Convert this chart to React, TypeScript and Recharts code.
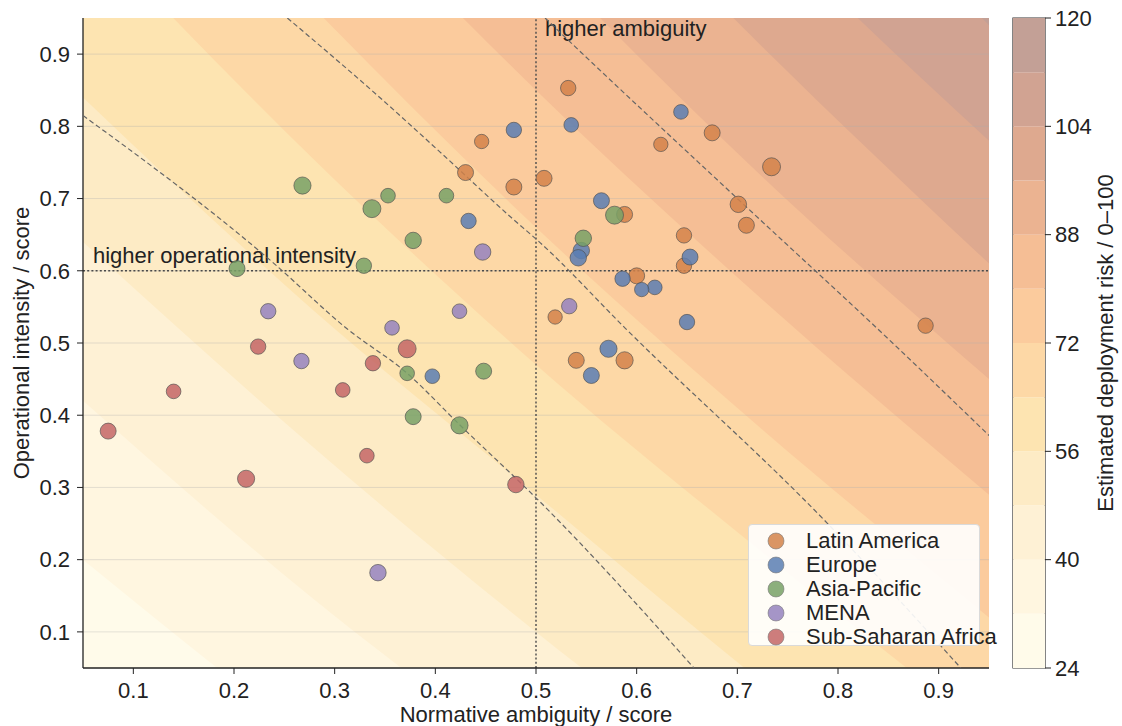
import React from 'react';
import {
  ComposedChart, BarChart, Bar, Area, Scatter, XAxis, YAxis, ZAxis,
  ReferenceLine, ReferenceArea, Legend,
} from 'recharts';

const FONT = '"Liberation Sans", Arial, Helvetica, sans-serif';

// [normative ambiguity, operational intensity, weight]
const latinAmerica = [
  [0.446, 0.779, 32], [0.430, 0.736, 53], [0.478, 0.716, 53], [0.532, 0.853, 45],
  [0.675, 0.791, 53], [0.624, 0.775, 32], [0.734, 0.744, 81], [0.508, 0.728, 53],
  [0.701, 0.692, 59], [0.588, 0.678, 53], [0.709, 0.663, 53], [0.647, 0.649, 45],
  [0.647, 0.607, 45], [0.600, 0.593, 53], [0.519, 0.536, 32], [0.887, 0.524, 45],
  [0.540, 0.476, 53], [0.588, 0.476, 69],
];
const europe = [
  [0.478, 0.795, 45], [0.433, 0.669, 45], [0.397, 0.454, 36], [0.644, 0.820, 36],
  [0.535, 0.802, 36], [0.565, 0.697, 53], [0.545, 0.628, 59], [0.542, 0.618, 59],
  [0.653, 0.619, 53], [0.586, 0.589, 45], [0.618, 0.577, 36], [0.605, 0.574, 32],
  [0.650, 0.529, 45], [0.572, 0.492, 69], [0.555, 0.455, 53],
];
const asiaPacific = [
  [0.268, 0.718, 69], [0.353, 0.704, 36], [0.411, 0.704, 36], [0.337, 0.686, 81],
  [0.378, 0.642, 59], [0.203, 0.603, 53], [0.329, 0.607, 45], [0.372, 0.458, 36],
  [0.448, 0.461, 53], [0.378, 0.398, 53], [0.424, 0.386, 69], [0.578, 0.677, 81],
  [0.547, 0.645, 59],
];
const mena = [
  [0.447, 0.626, 59], [0.234, 0.544, 45], [0.424, 0.544, 36], [0.357, 0.521, 36],
  [0.267, 0.475, 45], [0.343, 0.182, 59], [0.533, 0.551, 45],
];
const subSaharanAfrica = [
  [0.224, 0.495, 45], [0.372, 0.492, 81], [0.338, 0.472, 45], [0.140, 0.433, 36],
  [0.308, 0.435, 36], [0.075, 0.378, 53], [0.332, 0.344, 36], [0.212, 0.312, 69],
  [0.480, 0.304, 59],
];

const regionNames = ['Latin America', 'Europe', 'Asia-Pacific', 'MENA', 'Sub-Saharan Africa'];
const regionPoints = [latinAmerica, europe, asiaPacific, mena, subSaharanAfrica];
const regionColors = ['#d3834a', '#5a7eb3', '#78a166', '#9583be', '#c46666'];

// dashed iso-risk lines
const riskContourLow = [
  [0.05, 0.815], [0.239, 0.611], [0.312, 0.52], [0.372, 0.458], [0.424, 0.387],
  [0.504, 0.28], [0.657, 0.05],
];
const riskContourMid = [
  [0.253, 0.95], [0.348, 0.836], [0.405, 0.764], [0.476, 0.673], [0.504, 0.639],
  [0.589, 0.52], [0.789, 0.251], [0.922, 0.05],
];
const riskContourHigh = [
  [0.509, 0.95], [0.527, 0.926], [0.7, 0.7], [0.855, 0.499], [0.95, 0.372],
];

// filled risk bands: lower edge of each band (operational intensity) at these ambiguity values
const riskLevels = [24, 32, 40, 48, 56, 64, 72, 80, 88, 96, 104, 112, 120];
const bandEdgeX = [0.05, 0.275, 0.5, 0.725, 0.95];
const bandEdgeY = [
  [-0.03, -0.25, -0.47, -0.67, -0.86],
  [0.20, -0.05, -0.28, -0.49, -0.70],
  [0.42, 0.15, -0.09, -0.32, -0.53],
  [0.64, 0.36, 0.10, -0.14, -0.37],
  [0.84, 0.55, 0.29, 0.03, -0.21],
  [1.08, 0.76, 0.47, 0.21, -0.04],
  [1.30, 0.97, 0.66, 0.38, 0.12],
  [1.52, 1.17, 0.85, 0.56, 0.29],
  [1.74, 1.37, 1.04, 0.73, 0.45],
  [1.96, 1.58, 1.23, 0.91, 0.61],
  [2.19, 1.78, 1.42, 1.08, 0.78],
  [2.41, 1.98, 1.60, 1.26, 0.94],
];
const bandColors = [
  '#fffbea', '#fff6e0', '#fef1d5', '#fdebc5', '#fde4b1', '#fdd8a6',
  '#fbcb9d', '#f5be95', '#ebb391', '#dea98f', '#d1a392', '#c3a096',
];

const axisTicks = [0.1, 0.2, 0.3, 0.4, 0.5, 0.6, 0.7, 0.8, 0.9];
const riskTicks = [24, 40, 56, 72, 88, 104, 120];

const TEXT = '#222';
const FS = 22;

function AxisTitle(props: any) {
  const { viewBox, value, kind } = props;
  const { x, y, width, height } = viewBox;
  if (kind === 'x') {
    return (
      <text x={x + width / 2} y={y + 54} textAnchor="middle" fontSize={FS} fill={TEXT} fontFamily={FONT}>
        {value}
      </text>
    );
  }
  const cx = kind === 'y' ? x + 29 : x + 68;
  const cy = y + height / 2;
  return (
    <text x={cx} y={cy} transform={`rotate(-90 ${cx} ${cy})`} textAnchor="middle" fontSize={FS} fill={TEXT} fontFamily={FONT}>
      {value}
    </text>
  );
}

function NoteLabel(props: any) {
  const { viewBox, value, dx, dy } = props;
  return (
    <text x={viewBox.x + dx} y={viewBox.y + dy} fontSize={FS} fill={TEXT} fontFamily={FONT}>
      {value}
    </text>
  );
}

function LegendBox() {
  return (
    <div
      style={{
        boxSizing: 'border-box', width: 232, height: 122, paddingTop: 4,
        background: 'rgba(255,255,255,0.9)', border: '1px solid #dadada', borderRadius: 4,
        fontFamily: FONT, fontSize: FS, color: TEXT,
      }}
    >
      {regionNames.map((name, i) => (
        <div key={name} style={{ height: 24, display: 'flex', alignItems: 'center', whiteSpace: 'nowrap' }}>
          <svg width={57} height={24} style={{ flex: 'none' }}>
            <circle cx={27} cy={12} r={8} fill={regionColors[i]} fillOpacity={0.85} stroke="#777" strokeWidth={0.6} />
          </svg>
          <span>{name}</span>
        </div>
      ))}
    </div>
  );
}

export default function App() {
  const bandRows = bandEdgeX.map((x, i) => {
    const row: Record<string, number> = { x };
    riskLevels.slice(0, -1).forEach((lvl, k) => {
      row[`r${lvl}`] = bandEdgeY[k][i];
    });
    return row;
  });

  const colorbarRow: Record<string, number | string> = { name: 'risk', base: riskLevels[0] };
  riskLevels.slice(1).forEach((lvl, i) => {
    colorbarRow[`b${i}`] = lvl - riskLevels[i];
  });

  const contours = [riskContourLow, riskContourMid, riskContourHigh];
  const tickStyle = { fill: TEXT, fontSize: FS, fontFamily: FONT };

  return (
    <div style={{ position: 'absolute', left: 0, top: 0, width: 1122, height: 726, background: '#fff', fontFamily: FONT }}>
      <div style={{ position: 'absolute', left: 0, top: 0 }}>
        <ComposedChart width={1122} height={726} data={bandRows} margin={{ top: 18, right: 133, bottom: 0, left: 0 }}>
          <XAxis
            type="number" dataKey="x" domain={[0.05, 0.95]} allowDataOverflow ticks={axisTicks} interval={0}
            tickFormatter={(v: number) => v.toFixed(1)} height={58} tickSize={6} tickMargin={8}
            axisLine={{ stroke: '#222', strokeWidth: 1.3 }} tickLine={{ stroke: '#222' }} tick={tickStyle}
            label={<AxisTitle kind="x" value="Normative ambiguity / score" />}
          />
          <YAxis
            type="number" dataKey="y" domain={[0.05, 0.95]} allowDataOverflow ticks={axisTicks} interval={0}
            tickFormatter={(v: number) => v.toFixed(1)} width={83} tickSize={6} tickMargin={7}
            axisLine={{ stroke: '#222', strokeWidth: 1.3 }} tickLine={{ stroke: '#222' }} tick={tickStyle}
            label={<AxisTitle kind="y" value="Operational intensity / score" />}
          />
          <ZAxis type="number" dataKey="w" range={[32 * Math.PI, 81 * Math.PI]} />
          <ZAxis zAxisId="contour" type="number" range={[1, 1]} />

          {riskLevels.slice(0, -1).map((lvl, k) => (
            <Area
              key={lvl} dataKey={`r${lvl}`} type="monotone" baseValue="dataMax"
              fill={bandColors[k]} fillOpacity={1} stroke="none"
              dot={false} activeDot={false} legendType="none" isAnimationActive={false}
            />
          ))}

          {axisTicks.map((t) => (
            <ReferenceLine key={t} y={t} stroke="#b0b0b0" strokeOpacity={0.35} strokeWidth={1} />
          ))}

          <ReferenceLine
            x={0.5} stroke="#4a4a4a" strokeWidth={1.4} strokeDasharray="2 2.2"
            label={<NoteLabel value="higher ambiguity" dx={9} dy={18} />}
          />
          <ReferenceLine
            y={0.6} stroke="#4a4a4a" strokeWidth={1.4} strokeDasharray="2 2.2"
            label={<NoteLabel value="higher operational intensity" dx={10} dy={-8} />}
          />

          {contours.map((c, i) => (
            <Scatter
              key={`c${i}`} zAxisId="contour" data={c.map(([x, y]) => ({ x, y }))}
              line={{ stroke: '#666666', strokeWidth: 1.2, strokeDasharray: '5 3' }}
              lineJointType="monotoneX" shape={() => <g />}
              legendType="none" isAnimationActive={false}
            />
          ))}

          {regionNames.map((name, i) => (
            <Scatter
              key={name} name={name} data={regionPoints[i].map(([x, y, w]) => ({ x, y, w }))}
              fill={regionColors[i]} fillOpacity={0.85} stroke="#4d4d4d" strokeWidth={0.8} strokeOpacity={0.8}
              isAnimationActive={false}
            />
          ))}

          <Legend
            layout="horizontal" align="center" verticalAlign="middle"
            wrapperStyle={{ left: 748, top: 524, width: 232, height: 122 }}
            content={() => <LegendBox />}
          />
        </ComposedChart>
      </div>

      <div style={{ position: 'absolute', left: 990, top: 0 }}>
        <BarChart width={132} height={726} data={[colorbarRow]} margin={{ top: 18, right: 0, bottom: 58, left: 23 }} barCategoryGap={0}>
          <XAxis dataKey="name" hide />
          <YAxis
            orientation="right" type="number" domain={[24, 120]} allowDataOverflow ticks={riskTicks} interval={0}
            width={77} tickSize={6} tickMargin={4} axisLine={false} tickLine={{ stroke: '#222' }} tick={tickStyle}
            label={<AxisTitle kind="cb" value="Estimated deployment risk / 0–100" />}
          />
          <Bar dataKey="base" stackId="cb" fill="none" isAnimationActive={false} />
          {riskLevels.slice(1).map((lvl, i) => (
            <Bar key={lvl} dataKey={`b${i}`} stackId="cb" fill={bandColors[i]} isAnimationActive={false} />
          ))}
          <ReferenceArea y1={24} y2={120} fill="none" stroke="#333" strokeWidth={1.2} />
        </BarChart>
      </div>
    </div>
  );
}
